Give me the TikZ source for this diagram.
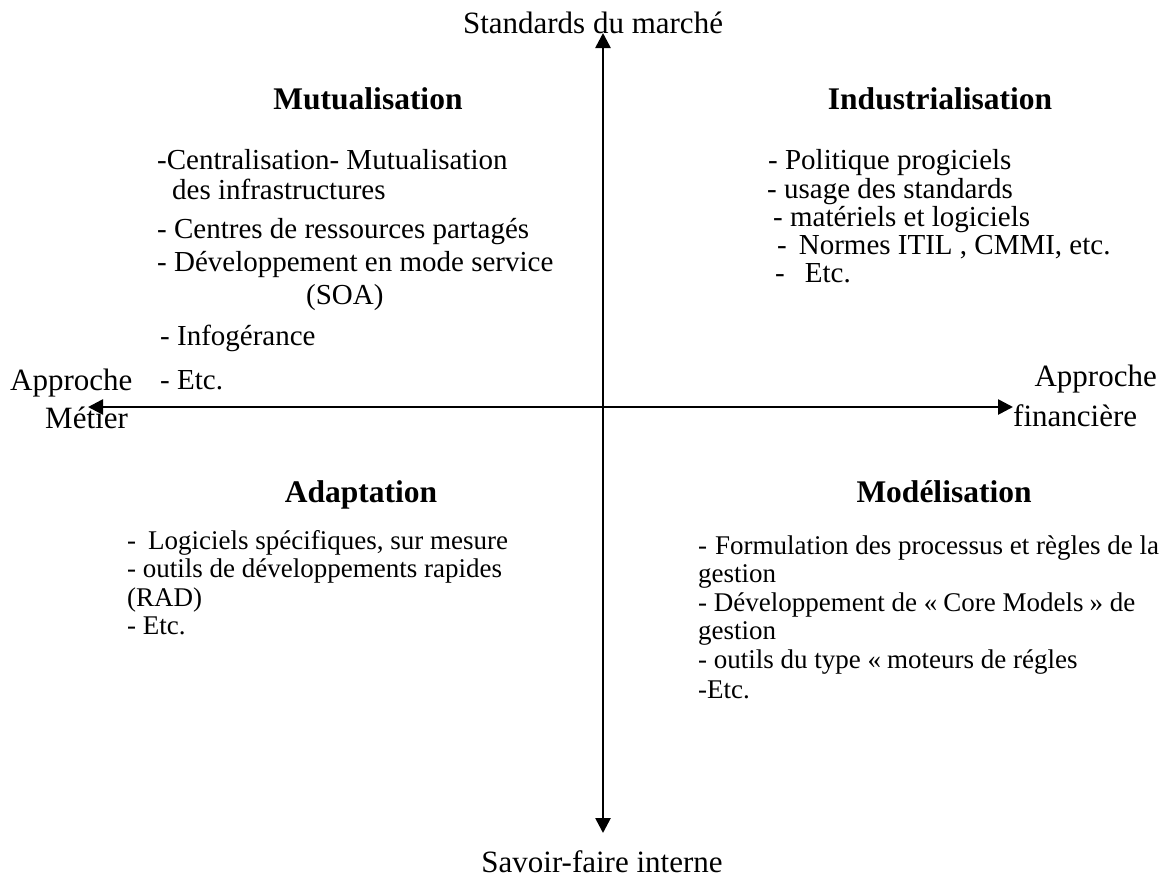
\documentclass[tikz,border=0pt]{standalone}
\usepackage{fontspec}
\setmainfont{Liberation Serif}
\usetikzlibrary{arrows.meta}
\begin{document}
\begin{tikzpicture}[x=1pt,y=-1pt,
  txt/.style={inner sep=0pt,anchor=base west,font=\fontsize{29}{30}\selectfont},
  sml/.style={inner sep=0pt,anchor=base west,font=\fontsize{27}{28}\selectfont},
  lbl/.style={inner sep=0pt,font=\fontsize{31}{33}\selectfont},
  ttl/.style={inner sep=0pt,anchor=base,font=\fontsize{31.5}{33}\selectfont\bfseries},
  axis/.style={line width=2.6pt,{Triangle[length=15pt,width=15pt]}-{Triangle[length=15pt,width=15pt]}}]
\useasboundingbox (0,0) rectangle (1161,879);

% axes
\coordinate (top) at (603,33);
\coordinate (bottom) at (603,833);
\coordinate (left) at (88,407);
\coordinate (right) at (1013,407);
\draw[axis] (bottom) -- (top);
\draw[axis] (left) -- (right);

% axis labels
\node[lbl,anchor=base] (nstd) at (593,33) {Standards du marché};
\node[lbl,anchor=base] (nsav) at (602,872) {Savoir-faire interne};
\node[lbl,anchor=base west] (nap1) at (10,390) {Approche};
\node[lbl,anchor=base west] (nap2) at (45,428) {Métier};
\node[lbl,anchor=base east] (nfi1) at (1157,386) {Approche};
\node[lbl,anchor=base west] (nfi2) at (1013,426) {financière};

% quadrant titles
\node[ttl] (tmut) at (368,109) {Mutualisation};
\node[ttl] (tind) at (940,109) {Industrialisation};
\node[ttl] (tada) at (361,502) {Adaptation};
\node[ttl] (tmod) at (944,502) {Modélisation};

% Mutualisation
\node[txt] (m1) at (157,169) {-Centralisation- Mutualisation};
\node[txt] (m2) at (172,199) {des infrastructures};
\node[txt] (m3) at (157,238) {- Centres de ressources partagés};
\node[txt] (m4) at (157,271) {- Développement en mode service};
\node[txt] (m5) at (306,304) {(SOA)};
\node[txt] (m6) at (160,345) {- Infogérance};
\node[txt] (m7) at (160,389) {- Etc.};

% Industrialisation
\node[txt] (i1) at (768,169) {- Politique progiciels};
\node[txt] (i2) at (767,198) {- usage des standards};
\node[txt] (i3) at (773,226) {- matériels et logiciels};
\node[txt] (i4) at (777,254) {-\hspace{12pt}Normes ITIL , CMMI, etc.};
\node[txt] (i5) at (775,282) {-\hspace{20pt}Etc.};

% Adaptation
\node[sml] (a1) at (127,549) {-\hspace{12pt}Logiciels spécifiques, sur mesure};
\node[sml] (a2) at (127,577) {- outils de développements rapides};
\node[sml] (a3) at (127,606) {(RAD)};
\node[sml] (a4) at (127,634) {- Etc.};

% Modelisation
\node[sml] (d1) at (698,554) {-\hspace{8pt}Formulation des processus et règles de la};
\node[sml] (d2) at (698,582) {gestion};
\node[sml] (d3) at (698,611) {- Développement de «\hspace{6pt}Core Models\hspace{6pt}» de};
\node[sml] (d4) at (698,639) {gestion};
\node[sml] (d5) at (698,668) {- outils du type «\hspace{6pt}moteurs de régles};
\node[sml] (d6) at (698,698) {-Etc.};
\end{tikzpicture}
\end{document}
